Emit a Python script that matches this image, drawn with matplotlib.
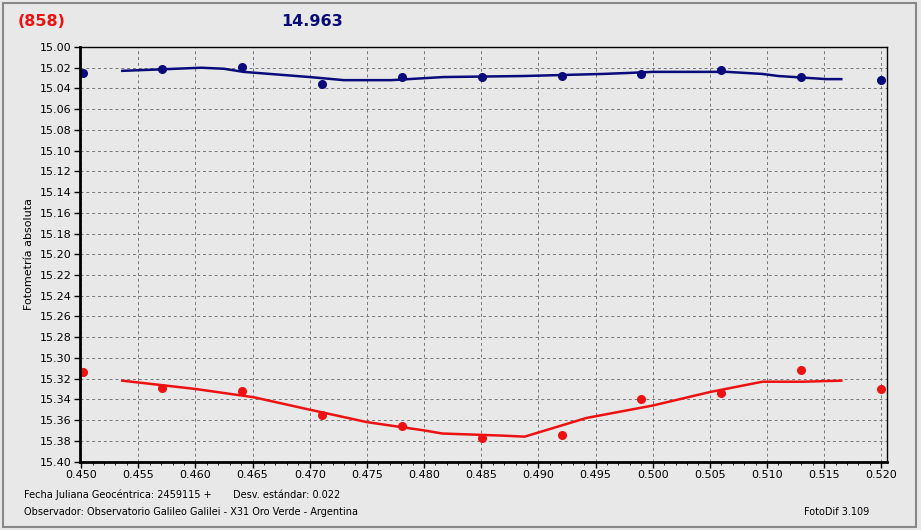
import numpy as np
import matplotlib
matplotlib.use("Agg")
from matplotlib import pyplot as plt
from matplotlib.patches import Rectangle
from matplotlib.ticker import MultipleLocator, FormatStrFormatter

# puntos medidos (fase / magnitud)
jd = [0.4502, 0.4571, 0.4641, 0.4711, 0.4781, 0.4851, 0.4921, 0.4990, 0.5060, 0.5130, 0.5200]
mag_azul = [15.025, 15.021, 15.019, 15.036, 15.029, 15.029, 15.028, 15.026, 15.022, 15.029, 15.032]
mag_roja = [15.314, 15.329, 15.332, 15.355, 15.366, 15.377, 15.374, 15.340, 15.334, 15.312, 15.330]

# curvas de ajuste
jd_ajuste_azul = [0.4536, 0.4560, 0.4605, 0.4625, 0.4642, 0.4700, 0.4730, 0.4771, 0.4817,
                  0.4887, 0.4956, 0.4980, 0.5000, 0.5065, 0.5096, 0.5110, 0.5152, 0.5165]
mag_ajuste_azul = [15.023, 15.022, 15.020, 15.021, 15.024, 15.029, 15.032, 15.032, 15.029,
                   15.028, 15.026, 15.025, 15.024, 15.024, 15.026, 15.028, 15.031, 15.031]
jd_ajuste_rojo = [0.4536, 0.4600, 0.4651, 0.4700, 0.4750, 0.4800, 0.4816, 0.4868, 0.4888,
                  0.4942, 0.5000, 0.5050, 0.5096, 0.5131, 0.5165]
mag_ajuste_rojo = [15.322, 15.330, 15.338, 15.350, 15.362, 15.370, 15.373, 15.375, 15.376,
                   15.358, 15.346, 15.333, 15.323, 15.323, 15.322]

fondo = '#e8e8e8'
azul = '#0a0a7a'
rojo = '#ee1111'

fig = plt.figure(figsize=(9.21, 5.30), dpi=100, facecolor=fondo)
ax = fig.add_axes([80/921, 1-461.5/530, (887-80)/921, (461.5-47)/530])
ax.set_facecolor(fondo)

ax.plot(jd_ajuste_azul, mag_ajuste_azul, color=azul, lw=1.8)
ax.plot(jd_ajuste_rojo, mag_ajuste_rojo, color=rojo, lw=1.8)
ax.plot(jd, mag_azul, 'o', color=azul, ms=5.5)
ax.plot(jd, mag_roja, 'o', color=rojo, ms=5.5)

ax.set_xlim(0.4499, 0.5205)
ax.set_ylim(15.40, 15.00)
ax.xaxis.set_major_locator(MultipleLocator(0.005))
ax.xaxis.set_minor_locator(MultipleLocator(0.001))
ax.yaxis.set_major_locator(MultipleLocator(0.02))
ax.xaxis.set_major_formatter(FormatStrFormatter('%.3f'))
ax.yaxis.set_major_formatter(FormatStrFormatter('%.2f'))
ax.tick_params(labelsize=8, length=4, width=1, pad=2, colors='black')
ax.tick_params(which='minor', length=2)
ax.grid(True, which='major', linestyle=(0, (3, 3)), color='#767676', lw=0.7)

ax.spines['left'].set_linewidth(2)
ax.spines['bottom'].set_linewidth(2)
ax.spines['top'].set_linewidth(1)
ax.spines['right'].set_linewidth(1)

ax.set_ylabel('Fotometría absoluta', fontsize=8, labelpad=4)

fig.text(18/921, 1-21/530, '(858)', color=rojo, fontsize=11.5, fontweight='bold', va='center')
fig.text(281/921, 1-21/530, '14.963', color=azul, fontsize=11.5, fontweight='bold', va='center')

fig.text(24/921, 1-495/530, 'Fecha Juliana Geocéntrica: 2459115 +', fontsize=7, va='center')
fig.text(233/921, 1-495/530, 'Desv. estándar: 0.022', fontsize=7, va='center')
fig.text(24/921, 1-512/530, 'Observador: Observatorio Galileo Galilei - X31 Oro Verde - Argentina',
         fontsize=7, va='center')
fig.text(869/921, 1-512/530, 'FotoDif 3.109', fontsize=7, va='center', ha='right')

fig.patches.append(Rectangle((3/921, 3/530), 913/921, 524/530, transform=fig.transFigure,
                             fill=False, edgecolor='#888888', lw=1.5))

fig.savefig('out.png', dpi=100, facecolor=fondo)
